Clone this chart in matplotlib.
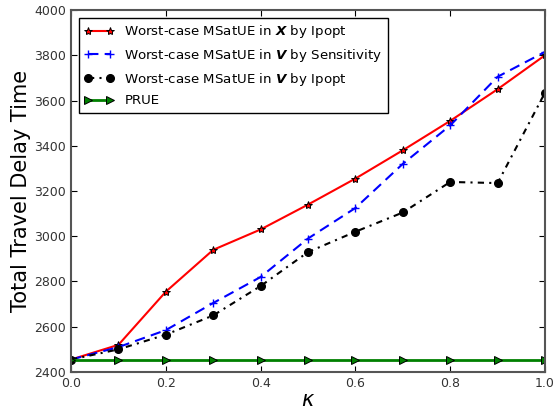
import matplotlib
matplotlib.use("Agg")
import matplotlib.pyplot as plt

# ==================== DADOS ====================
kappa = [0.0, 0.1, 0.2, 0.3, 0.4, 0.5, 0.6, 0.7, 0.8, 0.9, 1.0]
x_ipopt = [2455, 2520, 2755, 2940, 3030, 3140, 3255, 3380, 3510, 3650, 3800]
v_sens = [2455, 2510, 2585, 2705, 2820, 2990, 3125, 3320, 3490, 3705, 3815]
v_ipopt = [2455, 2500, 2565, 2650, 2780, 2930, 3020, 3105, 3240, 3235, 3635]
prue = [2455] * len(kappa)

labels = [
    r"Worst-case MSatUE in $\mathbfit{X}$ by Ipopt",
    r"Worst-case MSatUE in $\mathbfit{V}$ by Sensitivity",
    r"Worst-case MSatUE in $\mathbfit{V}$ by Ipopt",
    "PRUE",
]

fig = plt.figure(figsize=(5.55, 4.09), dpi=100)
ax = fig.add_axes([0.128, 0.0905, 0.854, 0.885])

ax.plot(kappa, x_ipopt, color="red", lw=1.5, marker="*", ms=6,
        mfc="red", mec="black", mew=0.7, label=labels[0])
ax.plot(kappa, v_sens, color="blue", lw=1.5, ls="--", dashes=(5, 3), marker="+",
        ms=6, mec="blue", mew=1, label=labels[1])
ax.plot(kappa, v_ipopt, color="black", lw=1.5, dashes=(3, 2.5, 1, 2.5),
        marker="o", ms=5.5, mfc="black", label=labels[2])
ax.plot(kappa, prue, color="green", lw=2, marker=">", ms=6,
        mfc="green", mec="black", mew=0.7, label=labels[3])

ax.set_xlim(0, 1)
ax.set_ylim(2400, 4000)
ax.set_xticks([0.0, 0.2, 0.4, 0.6, 0.8, 1.0])
ax.set_yticks(range(2400, 4001, 200))
ax.tick_params(direction="in", top=True, right=True, labelsize=9, length=4,
               labelcolor="#333333")
for s in ax.spines.values():
    s.set_linewidth(1.5)
    s.set_color("#555555")

ax.set_xlabel(r"$\kappa$", fontsize=15, labelpad=0)
ax.set_ylabel("Total Travel Delay Time", fontsize=15, labelpad=2.5)

leg = ax.legend(loc="upper left", fontsize=9.6, fancybox=False, framealpha=1,
                edgecolor="black", borderaxespad=0.6, handlelength=2.2,
                numpoints=2, labelspacing=0.5)
leg.get_frame().set_linewidth(1)

plt.savefig("out.png", dpi=100)
plt.close()
